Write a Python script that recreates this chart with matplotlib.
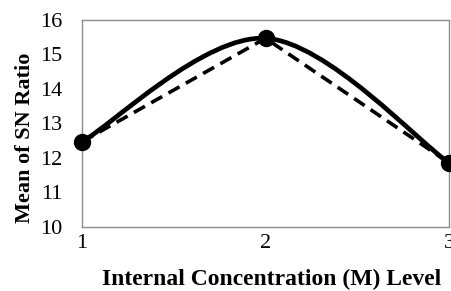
import matplotlib as mpl
mpl.use("Agg")
import matplotlib.pyplot as plt
from matplotlib.path import Path
from matplotlib.patches import PathPatch

levels = [1, 2, 3]
mean_sn = [12.47, 15.47, 11.86]
y_ticks = [10, 11, 12, 13, 14, 15, 16]


def smooth_path(xs, ys, tension=6.0):
    # Excel-style smoothed line: cubic Bezier segments through every point
    verts = [(xs[0], ys[0])]
    codes = [Path.MOVETO]
    n = len(xs)
    for i in range(n - 1):
        p0 = (xs[max(i - 1, 0)], ys[max(i - 1, 0)])
        p1 = (xs[i], ys[i])
        p2 = (xs[i + 1], ys[i + 1])
        p3 = (xs[min(i + 2, n - 1)], ys[min(i + 2, n - 1)])
        c1 = (p1[0] + (p2[0] - p0[0]) / tension, p1[1] + (p2[1] - p0[1]) / tension)
        c2 = (p2[0] - (p3[0] - p1[0]) / tension, p2[1] - (p3[1] - p1[1]) / tension)
        verts += [c1, c2, p2]
        codes += [Path.CURVE4] * 3
    return Path(verts, codes)


plt.rcParams["font.family"] = ["Liberation Serif", "DejaVu Serif"]

fig = plt.figure(figsize=(4.51, 2.91), dpi=100)
ax = fig.add_axes([82 / 451, 1 - 227 / 291, 367 / 451, 207 / 291])

ax.add_patch(PathPatch(smooth_path(levels, mean_sn), facecolor="none",
                       edgecolor="black", linewidth=3.4, capstyle="round"))
ax.plot(levels, mean_sn, color="black", linewidth=2.6, linestyle=(0, (3.5, 2)))
ax.plot(levels, mean_sn, linestyle="none", marker="o", markersize=11.5,
        color="black", clip_on=False, zorder=5)

ax.set_xlim(1, 3)
ax.set_ylim(10, 16)
ax.set_xticks(levels)
ax.set_yticks(y_ticks)
ax.tick_params(length=0, labelsize=16)
ax.tick_params(axis="x", pad=5)
ax.tick_params(axis="y", pad=14)
for spine in ax.spines.values():
    spine.set_color("#8c8c8c")
    spine.set_linewidth(1.0)

ax.set_xlabel("Internal Concentration (M) Level", fontsize=17, fontweight="bold")
ax.set_ylabel("Mean of SN Ratio", fontsize=16, fontweight="bold")
ax.xaxis.set_label_coords(0.518, -0.2, transform=ax.transAxes)
ax.yaxis.set_label_coords(-0.127, 0.43, transform=ax.transAxes)

fig.savefig("out.png", dpi=100)
